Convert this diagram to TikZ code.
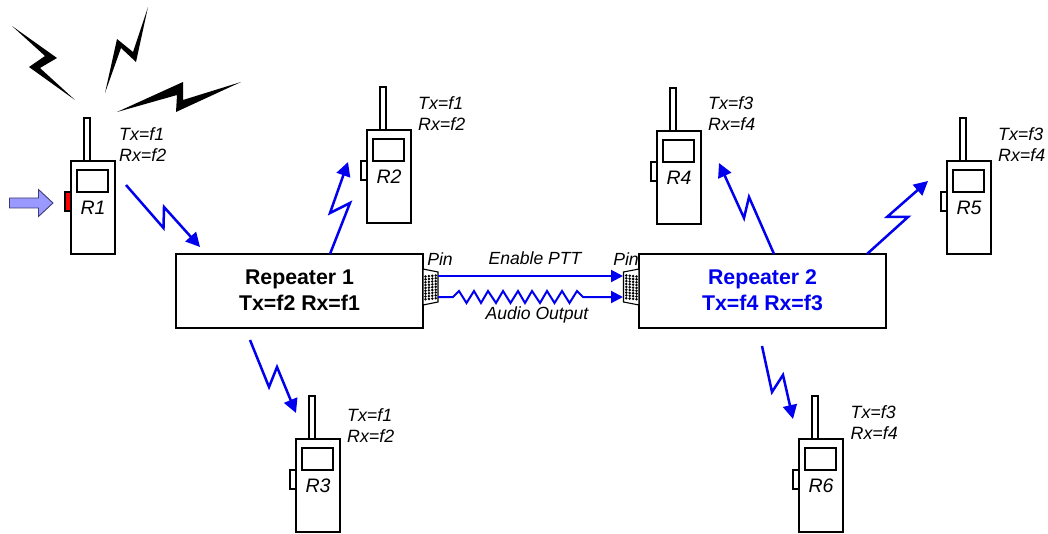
\documentclass[tikz,border=0pt]{standalone}
\usepackage{fontspec}
\setmainfont{Liberation Sans}
\usetikzlibrary{arrows.meta}
\definecolor{linkblue}{RGB}{0,0,238}
\definecolor{pushfill}{RGB}{153,153,255}
\definecolor{pushline}{RGB}{60,60,120}
\tikzset{
  x=1pt,y=-1pt,
  radiobody/.style={draw=black,line width=1.4pt,rectangle,minimum width=44pt,minimum height=93pt,inner sep=0pt,fill=white},
  radiopart/.style={draw=black,line width=1.4pt,fill=white},
  radiotext/.style={font=\fontsize{19.5}{21}\selectfont\itshape,inner sep=0pt},
  tagtext/.style={font=\fontsize{17.8}{21}\selectfont\itshape,inner sep=0pt,align=left,anchor=west},
  smalltext/.style={font=\fontsize{17.6}{20}\selectfont\itshape,inner sep=0pt},
  repbox/.style={draw=black,line width=1.5pt,rectangle,minimum width=247pt,minimum height=74pt,inner sep=0pt,align=center,font=\fontsize{21.3}{26}\selectfont\bfseries},
  link/.style={draw=linkblue,line width=2.5pt,line join=miter,-{Triangle[length=14pt,width=14pt]}},
  wire/.style={draw=linkblue,line width=2pt,-{Triangle[length=12pt,width=12pt]}},
  bolt/.style={fill=black,draw=none},
}
\newcommand{\radiounit}[7]{% name, x, y, button fill, tag x, tag y, tag text
  \fill[#4,draw=black,line width=1.4pt] (#2-6,#3+31) rectangle (#2,#3+50);
  \draw[radiopart] (#2+12.8,#3-43) rectangle (#2+18.8,#3);
  \node[radiobody] (#1) at (#2+22,#3+46.5) {};
  \draw[radiopart] (#2+6,#3+9) rectangle (#2+37,#3+31);
  \node[radiotext] (#1label) at (#2+22,#3+46.5) {#1};
  \node[tagtext] (#1tag) at (#5,#6) {#7};
}
\newcommand{\pindots}[1]{%
  \foreach \i in {0,1,2,3} \foreach \j in {0,...,8}
    \fill[black] (#1+\i*3.4,276+\j*2.85-\i*0.35+0.5) circle (1.4pt);
}
\begin{document}
\begin{tikzpicture}
\useasboundingbox (0,0) rectangle (1048,534);
% bolts
\path[bolt] (12,26) -- (57,58) -- (40,68) -- (75,100) -- (29,67) -- (45,56) -- cycle;
\path[bolt] (148,7) -- (136,62) -- (121,48) -- (105,93) -- (117,39) -- (133,52) -- cycle;
\path[bolt] (241,82) -- (183,100) -- (183,82) -- (117,112) -- (177,95) -- (176,112) -- cycle;
% radios
\radiounit{R1}{71}{161}{red}{119}{145}{Tx=f1\\Rx=f2}
\radiounit{R2}{367}{130}{white}{418}{114}{Tx=f1\\Rx=f2}
\radiounit{R3}{296}{439}{white}{347}{425.5}{Tx=f1\\Rx=f2}
\radiounit{R4}{657}{131}{white}{708}{114}{Tx=f3\\Rx=f4}
\radiounit{R5}{947}{161}{white}{998}{145}{Tx=f3\\Rx=f4}
\radiounit{R6}{799}{439}{white}{850.5}{423}{Tx=f3\\Rx=f4}
% push arrow
\draw[fill=pushfill,draw=pushline,line width=0.9pt] (9.5,198) -- (38.5,198) -- (38.5,189.5) -- (53,203) -- (38.5,216.5) -- (38.5,208) -- (9.5,208) -- cycle;
% repeaters
\node[repbox] (rep1) at (299.5,291) {\raisebox{1pt}{Repeater 1}\\\raisebox{1pt}{Tx=f2 Rx=f1}};
\node[repbox,text=linkblue] (rep2) at (762.5,291) {\raisebox{1pt}{Repeater 2}\\\raisebox{1pt}{Tx=f4 Rx=f3}};
% pin connectors
\draw[black,line width=1.1pt,fill=white] (423,269) -- (438,272) -- (438,302) -- (423,305) -- cycle;
\draw[black,line width=1.1pt,fill=white] (639,269) -- (623.5,272) -- (623.5,302) -- (639,305) -- cycle;
\pindots{425.5}
\begin{scope}[xscale=-1,xshift=-1062pt]\pindots{425.5}\end{scope}
\node[smalltext] (pinA) at (440,259) {Pin};
\node[smalltext] (pinB) at (626,259) {Pin};
% link end points
\coordinate (r1out) at (126,185); \coordinate (rep1in) at (200,247);
\coordinate (rep1a) at (330,254); \coordinate (r2in) at (348,162);
\coordinate (rep1b) at (250,340); \coordinate (r3in) at (296,413);
\coordinate (rep2a) at (774,254); \coordinate (r4in) at (719,163);
\coordinate (rep2b) at (867,254); \coordinate (r5in) at (928,181);
\coordinate (rep2c) at (762,346); \coordinate (r6in) at (793,419);
\coordinate (pttA) at (438,276); \coordinate (pttB) at (623,276);
\coordinate (audA) at (438,297); \coordinate (audB) at (623,297);
% radio links
\draw[link] (r1out) -- (163.5,228) -- (164,207) -- (rep1in);
\draw[link] (rep1a) -- (350,203) -- (330,213) -- (r2in);
\draw[link] (rep1b) -- (269,387) -- (277,367) -- (r3in);
\draw[link] (rep2a) -- (749,197) -- (744,218) -- (r4in);
\draw[link] (rep2b) -- (908,217) -- (887,217) -- (r5in);
\draw[link] (rep2c) -- (772,392) -- (783,375) -- (r6in);
% wires
\draw[wire] (pttA) -- (pttB);
\draw[wire] (audA) -- (453,297) -- (459,291) -- (466.5,303) -- (474,291) -- (481,303) -- (488,291) -- (496,303) -- (503,291) -- (510.5,303) -- (518,291) -- (525,303) -- (532,291) -- (540,303) -- (547,291) -- (554.5,303) -- (562,291) -- (569.5,303) -- (577,291) -- (583,297) -- (audB);
\node[smalltext] (ptt) at (535,258) {Enable PTT};
\node[smalltext] (aud) at (537,315) {Audio Output};
\end{tikzpicture}
\end{document}
